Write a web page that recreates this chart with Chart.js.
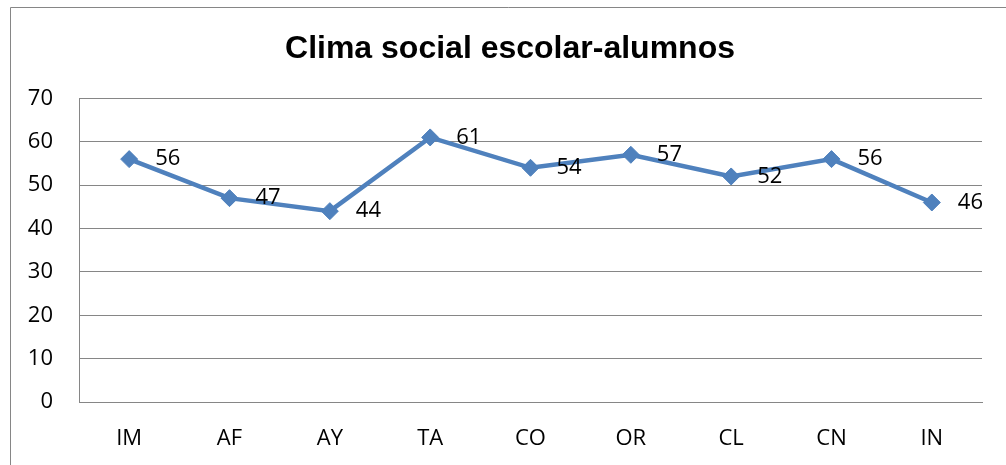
<!DOCTYPE html>
<html>
<head>
<meta charset="utf-8">
<script src="https://cdn.jsdelivr.net/npm/chart.js@4.4.1/dist/chart.umd.min.js"></script>
<style>
  html, body { margin: 0; padding: 0; background: #fff; }
  #wrap { width: 1006px; height: 465px; position: relative; }
</style>
</head>
<body>
<div id="wrap"><canvas id="grafico" width="1006" height="465"></canvas></div>
<script>
var categorias = ["IM", "AF", "AY", "TA", "CO", "OR", "CL", "CN", "IN"];
var valores = [56, 47, 44, 61, 54, 57, 52, 56, 46];
var titulo = "Clima social escolar-alumnos";

var gris = "#868686";
var azul = "#4F81BD";

// marco exterior del grafico (solo lados izquierdo y superior visibles)
var marco = {
  id: "marco",
  beforeDraw: function (chart) {
    var ctx = chart.ctx;
    ctx.save();
    ctx.fillStyle = "#fff";
    ctx.fillRect(0, 0, chart.width, chart.height);
    ctx.strokeStyle = gris;
    ctx.lineWidth = 1;
    ctx.beginPath();
    ctx.moveTo(10.5, chart.height);
    ctx.lineTo(10.5, 7.5);
    ctx.lineTo(chart.width, 7.5);
    ctx.stroke();
    ctx.restore();
  }
};

// etiquetas de valor a la derecha de cada punto
var etiquetas = {
  id: "etiquetas",
  afterDatasetsDraw: function (chart) {
    var ctx = chart.ctx;
    var meta = chart.getDatasetMeta(0);
    ctx.save();
    ctx.font = "22px 'Open Sans'";
    ctx.fillStyle = "#000";
    ctx.textAlign = "left";
    ctx.textBaseline = "middle";
    meta.data.forEach(function (pt, i) {
      ctx.fillText(String(valores[i]), pt.x + 26, pt.y);
    });
    ctx.restore();
  }
};

var ctx = document.getElementById("grafico").getContext("2d");
var miGrafico = new Chart(ctx, {
  type: "line",
  data: {
    labels: categorias,
    datasets: [
      {
        label: "",
        data: valores,
        borderColor: azul,
        backgroundColor: azul,
        borderWidth: 4.5,
        tension: 0,
        fill: false,
        pointStyle: "rectRot",
        pointRadius: 8.5,
        pointBorderWidth: 1,
        pointBackgroundColor: azul,
        pointBorderColor: azul,
      },
    ],
  },
  options: {
    responsive: false,
    animation: false,
    layout: { padding: { top: 0, left: 14, right: 0, bottom: 0 } },
    scales: {
      x: {
        offset: true,
        grid: { display: false, drawTicks: false },
        border: { display: true, color: gris, width: 1 },
        ticks: {
          color: "#000",
          font: { family: "'Open Sans'", size: 22 },
          padding: 24,
          maxRotation: 0,
          autoSkip: false,
        },
        afterFit: function (scale) { scale.height = 63; },
      },
      y: {
        min: 0,
        max: 70,
        grid: { color: gris, lineWidth: 1, drawTicks: false },
        border: { display: true, color: gris, width: 1 },
        ticks: {
          stepSize: 10,
          color: "#000",
          font: { family: "'Open Sans'", size: 22 },
          padding: 26,
        },
        afterFit: function (scale) { scale.width = 65; },
      },
      // eje vacio a la derecha, solo reserva espacio
      derecha: {
        type: "linear",
        position: "right",
        grid: { display: false, drawTicks: false },
        border: { display: false },
        ticks: { display: false },
        afterFit: function (scale) { scale.width = 24; },
      },
    },
    plugins: {
      legend: { display: false },
      tooltip: { enabled: false },
      title: {
        display: true,
        text: titulo,
        color: "#000",
        font: { family: "'Liberation Sans'", size: 32, weight: "bold" },
        padding: { top: 30, bottom: 30 },
      },
    },
  },
  plugins: [marco, etiquetas],
});
</script>
</body>
</html>
